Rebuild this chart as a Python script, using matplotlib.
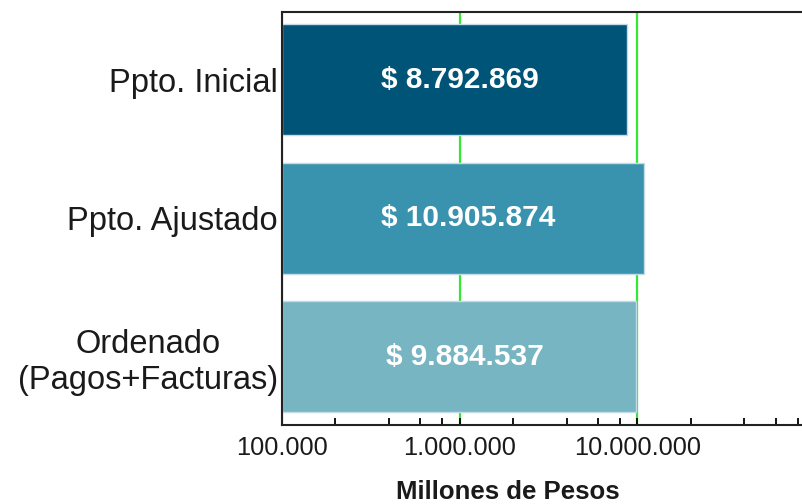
import numpy as np
import matplotlib
matplotlib.use("Agg")
import matplotlib.pyplot as plt
from matplotlib.ticker import FixedLocator, LogLocator, FuncFormatter, NullFormatter

plt.rcParams['font.family'] = ['Liberation Sans', 'DejaVu Sans']

# datos
categorias = ["Ppto. Inicial", "Ppto. Ajustado", "Ordenado\n(Pagos+Facturas)"]
valores = [8792869, 10905874, 9884537]
etiquetas = ["$ 8.792.869", "$ 10.905.874", "$ 9.884.537"]
colores = ["#005478", "#3a93ae", "#78b5c2"]
ticks_x = [1e5, 1e6, 1e7]

x_min, x_max = 1e5, 1e8

fig = plt.figure(figsize=(8.03, 5.04), dpi=100)
ax = fig.add_axes([282 / 803, 79.5 / 504, 533 / 803, 412.5 / 504])

y = np.arange(len(categorias))
ax.barh(y, [v - x_min for v in valores], left=x_min, height=0.8,
        color=colores, edgecolor="#c3dbe6", linewidth=1, zorder=2)

ax.set_xscale("log")
ax.set_xlim(x_min, x_max)
ax.set_ylim(2.49, -0.49)

# textos dentro de las barras
for i, v in enumerate(valores):
    centro = np.sqrt(x_min * v)
    ax.annotate(etiquetas[i], (centro, i), xytext=(4, 0), textcoords="offset points",
                ha="center", va="center", color="white", fontsize=21.5,
                fontweight="bold", zorder=3)

# eje y
ax.set_yticks(y)
ax.set_yticklabels(categorias, fontsize=23.5, color="#1a1a1a")
for lab in ax.get_yticklabels():
    lab.set_multialignment("center")
ax.tick_params(axis="y", length=0, pad=3)

# eje x
ax.xaxis.set_major_locator(FixedLocator(ticks_x))
ax.xaxis.set_minor_locator(LogLocator(base=10, subs=[2, 4, 6, 8], numticks=10))
ax.xaxis.set_major_formatter(FuncFormatter(lambda v, p: f"{int(round(v)):,}".replace(",", ".")))
ax.xaxis.set_minor_formatter(NullFormatter())
ax.tick_params(axis="x", which="both", direction="in", length=5, width=1.3,
               labelsize=18.3, labelcolor="#1a1a1a", pad=8.5)

ax.grid(axis="x", which="major", color="#33e833", linewidth=1.6, zorder=1)
ax.set_axisbelow(True)

for s in ax.spines.values():
    s.set_linewidth(1.5)
    s.set_color("#222222")

ax.set_xlabel("Millones de Pesos", fontsize=18.5, fontweight="bold", color="#1a1a1a")
ax.xaxis.set_label_coords(0.4228, -0.1636)
ax.xaxis.label.set_verticalalignment("center")

plt.savefig("out.png", dpi=100)
